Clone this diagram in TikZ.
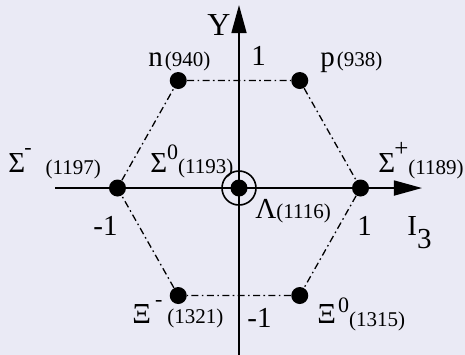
\documentclass[tikz,border=0pt]{standalone}
\usepackage{fontspec}
\setmainfont{Liberation Serif}
\usetikzlibrary{arrows.meta,positioning}
\definecolor{bgcol}{RGB}{234,234,245}
% mass in MeV, optionally lowered
\newcommand{\mass}[2][0pt]{\raisebox{-#1}{\fontsize{10.5}{12}\selectfont(#2)}}
% charge as a raised small sign
\newcommand{\charge}[2][6.5pt]{\raisebox{#1}{\fontsize{11}{12}\selectfont #2}}

\begin{document}
\begin{tikzpicture}[x=60.75pt,y=53.75pt,
	dot/.style={circle, fill=black, inner sep=0pt, minimum size=8.5pt},
	lbl/.style={anchor=base west, inner sep=0pt, font=\fontsize{14.5}{16}\selectfont},
	edge/.style={line width=0.65pt, dash pattern=on 3.5pt off 1.7pt on 0.8pt off 1.7pt},
	axis/.style={line width=0.8pt, -{Triangle[length=14pt,width=7.5pt]}}]
	\fill[bgcol] (-1.967,-1.553) rectangle (1.860,1.749);
	\useasboundingbox (-1.967,-1.553) rectangle (1.860,1.749);

	% axes
	\coordinate (xl) at (-1.514,0);
	\coordinate (xr) at (1.506,0);
	\coordinate (yb) at (0,-1.553);
	\coordinate (yt) at (0,1.702);
	\draw[axis] (xl) -- (xr);
	\draw[axis] (yb) -- (yt);

	% baryon octet
	\node[dot] (n) at (-0.5,1) {};
	\node[dot] (p) at (0.5,1) {};
	\node[dot] (sm) at (-1,0) {};
	\node[dot] (sp) at (1,0) {};
	\node[dot] (sz) at (0,0) {};
	\node[circle, draw, line width=0.8pt, minimum size=17pt, inner sep=0pt] (lam) at (0,0) {};
	\node[dot] (xm) at (-0.5,-1) {};
	\node[dot] (xz) at (0.5,-1) {};

	\draw[edge] (n)--(p)--(sp)--(xz)--(xm)--(sm)--(n);

	% labels
	\node[lbl, font=\fontsize{16}{18}\selectfont] (ylab) at (-0.263,1.423) {Y};
	\node[lbl] (ixlab) at (1.383,-0.437) {I\raisebox{-6.5pt}{3}};
	\node[lbl] (ytick1) at (0.099,1.144) {1};
	\node[lbl] (ytick2) at (0.066,-1.293) {-1};
	\node[lbl] (xtick1) at (-1.202,-0.437) {-1};
	\node[lbl] (xtick2) at (0.971,-0.437) {1};

	\node[lbl] (nlab) at (-0.749,1.126) {n\hspace{1pt}\mass{940}};
	\node[lbl] (plab) at (0.667,1.126) {p\hspace{1pt}\mass{938}};
	\node[lbl] (smlab) at (-1.901,0.140) {Σ\hspace{-0.5pt}\charge[9pt]{-}\hspace{7pt}\mass[1pt]{1197}};
	\node[lbl] (szlab) at (-0.733,0.140) {Σ\charge{0}\mass[0.5pt]{1193}};
	\node[lbl] (splab) at (1.144,0.140) {Σ\hspace{-0.5pt}\charge[8pt]{\fontsize{12.5}{13}\selectfont+}\mass[1pt]{1189}};
	\node[lbl] (lamlab) at (0.132,-0.279) {Λ\mass{1116}};
	\node[lbl] (xmlab) at (-0.881,-1.256) {Ξ\hspace{2pt}\charge[8.5pt]{-}\hspace{2.5pt}\mass{1321}};
	\node[lbl] (xzlab) at (0.642,-1.256) {Ξ\hspace{1pt}\charge[5.5pt]{0}\mass[1.5pt]{1315}};
\end{tikzpicture}
\end{document}
